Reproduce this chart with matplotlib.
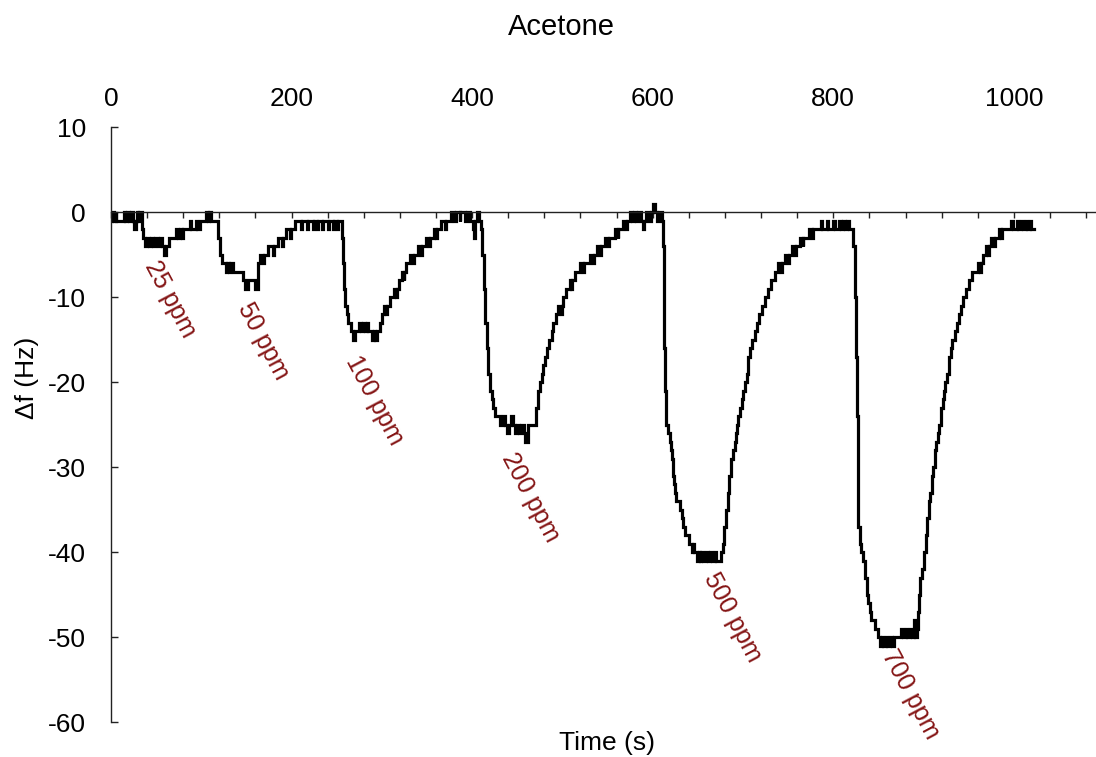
import matplotlib
matplotlib.use("Agg")
import matplotlib.pyplot as plt

# QCM frequency shift during repeated acetone pulses.
# Each pair is (time in s, delta f in Hz) at which a new reading level starts.
pulse_25 = [(0, -1), (1.5, 0), (3, -1), (5, 0), (6, -1), (14, 0), (16, -1), (18, 0),
            (20, -1), (22, 0), (24, -1), (25, -2), (28, -1), (29, 0), (30, -1), (31, 0),
            (34, -2), (35.5, -3), (38, -4), (40, -3), (42, -4), (44, -3), (47, -4),
            (49, -3), (52, -4), (54, -3), (56, -4), (59, -5), (61, -4), (64, -3),
            (72, -2), (74, -3), (76, -2), (79, -3), (80, -2), (86, -2), (88, -1),
            (89, -2), (94, -1), (95, -2), (98, -1), (105, 0), (107, -1), (108, 0),
            (111, -1)]

pulse_50 = [(119, -3), (121, -5), (123, -6), (127, -7), (128, -6), (131, -7), (132, -6),
            (135, -7), (146, -8), (148, -9), (152, -8), (159, -9), (163, -6), (165, -5),
            (168, -6), (169, -5), (174, -4), (179, -5), (180, -4), (185, -3), (189, -4),
            (190, -3), (194, -2), (198, -3), (199, -2), (204, -1), (210, -2), (211, -1),
            (217, -2), (218, -1), (224, -2), (225, -1), (228, -2), (229, -1), (234, -2),
            (235, -1), (240, -2), (241, -1), (246, -2), (247, -1), (250, -2), (251, -1)]

pulse_100 = [(255.5, -3), (256.5, -6), (258, -9), (259, -11), (261, -12), (263, -13),
             (266, -14), (268, -15), (270, -14), (275, -13), (277, -14), (279, -13),
             (281, -14), (284, -13), (285, -14), (289, -15), (291, -14), (292, -15),
             (295, -14), (298, -13), (300, -12), (302, -11), (305, -12), (306, -11),
             (309, -10), (313, -9), (316, -10), (317, -9), (319, -8), (322, -7),
             (324, -8), (325, -7), (327, -6), (331, -5), (335, -6), (336, -5), (340, -4),
             (343, -5), (344, -4), (349, -3), (352, -4), (353, -3), (358, -2), (360, -3),
             (361, -2), (366, -1), (370, -2), (371, -1), (377, 0), (380, -1), (382, 0),
             (386, -1), (387, 0), (392, -1), (394, 0), (398, -1), (401, -2), (402.5, -3),
             (403.5, -1), (405, 0), (408, -1)]

pulse_200 = [(410, -2), (411, -5), (413, -9), (414.5, -13), (416, -16), (418, -19),
             (420, -21), (421.5, -22), (423, -23), (425, -24), (431, -25), (434, -24),
             (436, -25), (439, -26), (441, -25), (443, -24), (445, -25), (448, -26),
             (450, -25), (452, -26), (454, -25), (457, -26), (459, -27), (462, -25),
             (471, -23), (473, -21), (475, -20), (477, -19), (479, -18), (481, -17),
             (483, -16), (485, -15), (488, -14), (490, -13), (493, -12), (495, -11),
             (498, -12), (499, -11), (501, -10), (504, -9), (508, -8), (510, -9),
             (511, -8), (514, -7), (519, -6), (523, -7), (524, -6), (530, -5), (534, -6),
             (535, -5), (538, -4), (542, -5), (543, -4), (547, -3), (551, -4), (552, -3),
             (558, -2), (561, -3), (562, -2), (567, -1), (570, -2), (571, -1), (575, 0),
             (577, -1), (579, 0), (582, -1), (584, 0), (587, -1), (589, -2), (590, -1),
             (593, 0), (596, -1), (598, 0), (600, 1), (602, 0), (605, -1), (607, 0)]

pulse_500 = [(609.8, -1), (611, -4), (612, -10), (613, -16), (614, -21), (615, -25),
             (617, -26), (619, -27), (620.5, -28), (621.5, -29), (622.5, -31), (624, -32),
             (625, -33), (626, -34), (630, -35), (632, -36), (634, -37), (636, -38),
             (640, -39), (643, -40), (645, -39), (646, -40), (649, -41), (651, -40),
             (652, -41), (654, -40), (656, -41), (659, -40), (661, -41), (664, -40),
             (666, -41), (669, -40), (670, -41), (676, -40), (677.5, -39), (679, -37),
             (681, -35), (683, -33), (685, -31), (687, -29), (689, -28), (691, -27),
             (692.5, -26), (693.5, -25), (695, -24), (697, -23), (698.5, -22), (700, -21),
             (702, -20), (704, -19), (706, -17), (708, -16), (710, -15), (713, -14),
             (715, -13), (718, -12), (721, -11), (724, -10), (728, -9), (731, -8),
             (735, -7), (739, -6), (742, -7), (743, -6), (746, -5), (750, -6), (751, -5),
             (754, -4), (758, -5), (759, -4), (763, -3), (766, -4), (767, -3), (773, -2),
             (776, -3), (777, -2), (786, -1), (787, -2), (793, -1), (794.5, -2),
             (800, -1), (801.5, -2), (806, -1), (808, -2), (811, -1), (812.5, -2),
             (815, -1), (817, -2)]

pulse_700 = [(820, -2), (822, -4), (824, -10), (825, -17), (826, -24), (827, -31),
             (827.6, -37), (829.5, -39), (831, -40), (833, -41), (835, -43), (837, -45),
             (839, -46), (840.5, -47), (842, -48), (846, -49), (849, -50), (851.5, -51),
             (854, -50), (855, -51), (858, -50), (860, -51), (863, -50), (865, -51),
             (867, -50), (875, -49), (877, -50), (880, -49), (882, -50), (885, -49),
             (887, -50), (889, -48), (891, -50), (893, -49), (894, -47), (895, -45),
             (896, -43), (898, -42), (900, -40), (902.5, -38), (904, -36), (905.5, -34),
             (907, -33), (909, -31), (911, -30), (912.5, -28), (914, -27), (916, -26),
             (917.5, -25), (919, -23), (921, -22), (922.5, -21), (924, -20), (926, -19),
             (928, -17), (930, -16), (932, -15), (935, -14), (937, -13), (939, -12),
             (942, -11), (944, -10), (947, -9), (950, -8), (954, -7), (960, -6),
             (963, -7), (964, -6), (966, -5), (969, -4), (971, -5), (972, -4), (975, -3),
             (978, -4), (979, -3), (984, -2), (986, -3), (987, -2), (997, -1), (999, -2),
             (1003, -1), (1005, -2), (1008, -1), (1010, -2), (1013, -1), (1015, -2),
             (1018, -1), (1019, -2), (1022, -2)]

concentrations = ["25 ppm", "50 ppm", "100 ppm", "200 ppm", "500 ppm", "700 ppm"]
top_ticks = [0, 200, 400, 600, 800, 1000]
y_ticks = [-60, -50, -40, -30, -20, -10, 0, 10]

# where each concentration tag sits, in data units (time, delta f)
tag_time = [66, 168, 292, 465, 688, 885]
tag_shift = [-10.2, -15.1, -22.1, -33.5, -47.7, -56.7]


def stitch(*segments):
    t, f = [], []
    for seg in segments:
        for a, b in seg:
            t.append(a)
            f.append(b)
    return t, f


def create_graph():
    plt.rcParams["font.family"] = ["Liberation Sans", "DejaVu Sans"]
    plt.rcParams["axes.unicode_minus"] = False
    fig = plt.figure(figsize=(10.96, 7.57), dpi=100)
    ax = fig.add_axes([0.1013, 0.0458, 0.8987, 0.7858])

    t, f = stitch(pulse_25, pulse_50, pulse_100, pulse_200, pulse_500, pulse_700)
    ax.plot(t, f, drawstyle="steps-post", color="black", lw=2.3,
            solid_joinstyle="miter")

    ax.set_xlim(0, 1091)
    ax.set_ylim(-60, 10)

    # x axis runs along delta f = 0, labels go on top
    ax.spines["top"].set_visible(False)
    ax.spines["right"].set_visible(False)
    ax.spines["bottom"].set_position(("data", 0))
    for side in ("left", "bottom"):
        ax.spines[side].set_linewidth(1.0)
        ax.spines[side].set_color("#222222")

    ax.set_xticks(range(0, 1091, 40))
    ax.tick_params(axis="x", direction="out", length=4, width=1,
                   color="#222222", labelbottom=False)
    ax.set_yticks(y_ticks)
    ax.tick_params(axis="y", direction="in", length=5, width=1,
                   color="#222222", labelsize=19, pad=18)

    top = ax.secondary_xaxis("top")
    top.set_xticks(top_ticks)
    top.tick_params(length=0, labelsize=19, pad=12)
    top.spines["top"].set_visible(False)

    for label, x, y in zip(concentrations, tag_time, tag_shift):
        ax.text(x, y, label, rotation=-62, ha="center", va="center",
                fontsize=18, color="#841414")

    fig.text(561 / 1096, 1 - 35 / 757, "Acetone", ha="center", va="baseline",
             fontsize=21)
    fig.text(607 / 1096, 14 / 757, "Time (s)", ha="center", va="center",
             fontsize=19)
    fig.text(27 / 1096, 1 - 378 / 757, "Δf (Hz)", ha="center", va="center",
             rotation=90, fontsize=19)

    fig.savefig("out.png", dpi=100)
    plt.close(fig)


if __name__ == "__main__":
    create_graph()
